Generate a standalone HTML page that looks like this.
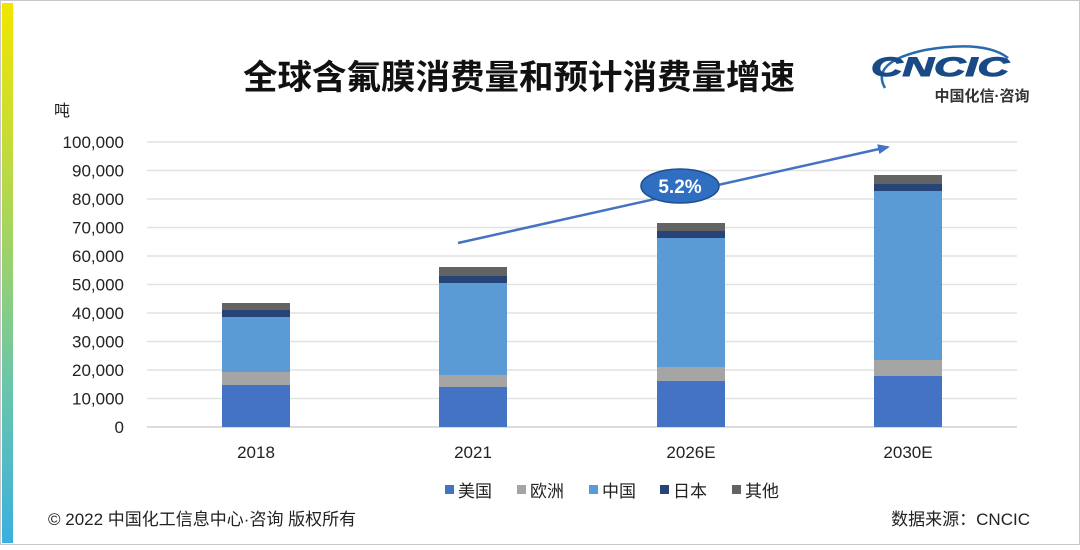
<!DOCTYPE html>
<html><head><meta charset="utf-8"><style>
body{margin:0;width:1080px;height:545px;overflow:hidden;background:#fff;font-family:"Liberation Sans","Noto Sans CJK SC",sans-serif}
</style></head><body>
<svg width="1080" height="545" xmlns="http://www.w3.org/2000/svg" font-family="Liberation Sans, Noto Sans CJK SC, sans-serif">
<defs>
<linearGradient id="g" x1="0" y1="0" x2="0" y2="1">
<stop offset="0" stop-color="#f2e600"/><stop offset="0.35" stop-color="#b4d84c"/><stop offset="0.7" stop-color="#6cc6a8"/><stop offset="1" stop-color="#3bb0e0"/>
</linearGradient>
<marker id="ah" markerWidth="12" markerHeight="10" refX="10" refY="5" orient="auto" markerUnits="userSpaceOnUse"><path d="M0,0 L12,5 L0,10 z" fill="#4472c4"/></marker>
</defs>
<rect x="0.5" y="0.5" width="1079" height="544" fill="#fff" stroke="#c8c8c8"/>
<rect x="2" y="3" width="11" height="540" fill="url(#g)"/>
<text x="519" y="89" font-size="34" font-weight="bold" text-anchor="middle" fill="#111" textLength="552" lengthAdjust="spacingAndGlyphs">全球含氟膜消费量和预计消费量增速</text>
<g>
<path d="M885,88 Q870,62 925,50 Q985,40 1008,58" fill="none" stroke="#2a6bb0" stroke-width="2.5"/>
<text x="940" y="76" font-size="27" font-weight="900" font-style="italic" fill="#1a4a86" text-anchor="middle" textLength="138" lengthAdjust="spacingAndGlyphs" stroke="#1a4a86" stroke-width="1">CNCIC</text>
<text x="982" y="101" font-size="15" font-weight="bold" fill="#333" text-anchor="middle">中国化信·咨询</text>
</g>
<text x="62" y="116" font-size="16" fill="#222" text-anchor="middle">吨</text>
<g stroke="#e2e2e2" stroke-width="1.5">
<line x1="147" x2="1017" y1="142" y2="142"/><line x1="147" x2="1017" y1="170.5" y2="170.5"/><line x1="147" x2="1017" y1="199" y2="199"/><line x1="147" x2="1017" y1="227.5" y2="227.5"/><line x1="147" x2="1017" y1="256" y2="256"/><line x1="147" x2="1017" y1="284.5" y2="284.5"/><line x1="147" x2="1017" y1="313" y2="313"/><line x1="147" x2="1017" y1="341.5" y2="341.5"/><line x1="147" x2="1017" y1="370" y2="370"/><line x1="147" x2="1017" y1="398.5" y2="398.5"/>
</g>
<line x1="147" x2="1017" y1="427" y2="427" stroke="#d0d0d0" stroke-width="1.5"/>
<g font-size="17" fill="#222" text-anchor="end">
<text x="124" y="148">100,000</text><text x="124" y="176.5">90,000</text><text x="124" y="205">80,000</text><text x="124" y="233.5">70,000</text><text x="124" y="262">60,000</text><text x="124" y="290.5">50,000</text><text x="124" y="319">40,000</text><text x="124" y="347.5">30,000</text><text x="124" y="376">20,000</text><text x="124" y="404.5">10,000</text><text x="124" y="433">0</text>
</g>
<g>
<rect x="222" y="385" width="68" height="42" fill="#4472c4"/><rect x="222" y="372" width="68" height="13" fill="#a5a5a5"/><rect x="222" y="317" width="68" height="55" fill="#5b9bd5"/><rect x="222" y="310" width="68" height="7" fill="#264478"/><rect x="222" y="303" width="68" height="7" fill="#636363"/>
<rect x="439" y="387" width="68" height="40" fill="#4472c4"/><rect x="439" y="375" width="68" height="12" fill="#a5a5a5"/><rect x="439" y="283" width="68" height="92" fill="#5b9bd5"/><rect x="439" y="276" width="68" height="7" fill="#264478"/><rect x="439" y="267" width="68" height="9" fill="#636363"/>
<rect x="657" y="381" width="68" height="46" fill="#4472c4"/><rect x="657" y="367" width="68" height="14" fill="#a5a5a5"/><rect x="657" y="238" width="68" height="129" fill="#5b9bd5"/><rect x="657" y="231" width="68" height="7" fill="#264478"/><rect x="657" y="223" width="68" height="8" fill="#636363"/>
<rect x="874" y="376" width="68" height="51" fill="#4472c4"/><rect x="874" y="360" width="68" height="16" fill="#a5a5a5"/><rect x="874" y="191" width="68" height="169" fill="#5b9bd5"/><rect x="874" y="184" width="68" height="7" fill="#264478"/><rect x="874" y="175" width="68" height="9" fill="#636363"/>
</g>
<g font-size="17" fill="#222" text-anchor="middle">
<text x="256" y="458">2018</text><text x="473" y="458">2021</text><text x="691" y="458">2026E</text><text x="908" y="458">2030E</text>
</g>
<line x1="458" y1="243" x2="888" y2="147" stroke="#4472c4" stroke-width="2.5" marker-end="url(#ah)"/>
<ellipse cx="680" cy="186" rx="39" ry="17" fill="#2f6ec0" stroke="#1f4e8c" stroke-width="1.5"/>
<text x="680" y="193" font-size="19" font-weight="bold" fill="#fff" text-anchor="middle">5.2%</text>
<g font-size="17" fill="#222">
<rect x="445" y="485" width="9" height="9" fill="#4472c4"/><text x="458" y="497">美国</text>
<rect x="517" y="485" width="9" height="9" fill="#a5a5a5"/><text x="530" y="497">欧洲</text>
<rect x="589" y="485" width="9" height="9" fill="#5b9bd5"/><text x="602" y="497">中国</text>
<rect x="660" y="485" width="9" height="9" fill="#264478"/><text x="673" y="497">日本</text>
<rect x="732" y="485" width="9" height="9" fill="#636363"/><text x="745" y="497">其他</text>
</g>
<text x="48" y="525" font-size="17" fill="#222">© 2022 中国化工信息中心·咨询 版权所有</text>
<text x="1030" y="525" font-size="17" fill="#222" text-anchor="end">数据来源：CNCIC</text>
</svg>
</body></html>
